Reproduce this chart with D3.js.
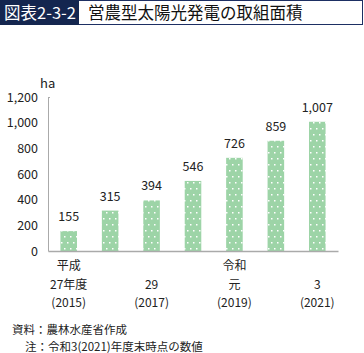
<!DOCTYPE html>
<html><head><meta charset="utf-8">
<script src="https://cdn.jsdelivr.net/npm/d3@7"></script>
<style>body{margin:0;background:#fff;}svg{display:block;font-family:"Noto Sans CJK JP","Noto Sans",sans-serif;}</style>
</head><body>
<script>
const years = ["2015","2016","2017","2018","2019","2020","2021"];
const values = [155, 315, 394, 546, 726, 859, 1007];
const yTicks = [0, 200, 400, 600, 800, 1000, 1200];
const xLabels = [
  {year:"2015", lines:["平成","27年度","(2015)"]},
  {year:"2017", lines:["","29","(2017)"]},
  {year:"2019", lines:["令和","元","(2019)"]},
  {year:"2021", lines:["","3","(2021)"]}
];
const titleBox = "図表2-3-2";
const titleText = "営農型太陽光発電の取組面積";
const notes = ["資料：農林水産省作成", "注：令和3(2021)年度末時点の数値"];

const W = 364, H = 353;
const svg = d3.select("body").append("svg").attr("width", W).attr("height", H);

// pattern
const defs = svg.append("defs");
const pat = defs.append("pattern").attr("id","dots").attr("patternUnits","userSpaceOnUse")
  .attr("width",6).attr("height",12);
pat.append("rect").attr("width",6).attr("height",12).attr("fill","#9dd4a7");
pat.append("rect").attr("x",1).attr("y",2).attr("width",1.5).attr("height",1.5).attr("fill","#fff");
pat.append("rect").attr("x",4).attr("y",8).attr("width",1.5).attr("height",1.5).attr("fill","#fff");

// title
svg.append("rect").attr("x",0.5).attr("y",0.5).attr("width",362).attr("height",24)
  .attr("fill","#fff").attr("stroke","#1d2f63").attr("stroke-width",1);
svg.append("rect").attr("x",0).attr("y",0).attr("width",79).attr("height",25).attr("fill","#14264f");
svg.append("text").attr("x",4).attr("y",19).attr("fill","#fff").attr("font-size",16.5).text(titleBox);
svg.append("text").attr("x",88).attr("y",19).attr("fill","#111").attr("font-size",16.5).text(titleText);

const x0 = 48, x1 = 338, yTop = 97, yBot = 251;
const x = d3.scaleBand().domain(years).range([x0, x1]).paddingInner(0.6).paddingOuter(0.3);
const y = d3.scaleLinear().domain([0, 1200]).range([yBot, yTop]);

// y axis
const yAxis = d3.axisLeft(y).tickValues(yTicks).tickSize(0).tickPadding(10).tickFormat(d3.format(","));
const gy = svg.append("g").attr("transform",`translate(${x0},0)`).call(yAxis);
gy.select(".domain").attr("stroke","#aaa");
gy.selectAll("text").attr("font-size",12.5).attr("fill","#222").attr("font-family","'Noto Sans CJK JP',sans-serif");
svg.append("line").attr("x1",x0).attr("x2",x0+2).attr("y1",yTop+0.5).attr("y2",yTop+0.5).attr("stroke","#aaa");

svg.append("text").attr("x",40).attr("y",88).attr("font-size",13).attr("fill","#222").text("ha");

// bars
svg.append("g").selectAll("rect").data(values).join("rect")
  .attr("x",(d,i)=>x(years[i])).attr("width",x.bandwidth())
  .attr("y",d=>y(d)).attr("height",d=>yBot - y(d))
  .attr("fill","url(#dots)");

svg.append("g").selectAll("text").data(values).join("text")
  .attr("x",(d,i)=>x(years[i])+x.bandwidth()/2).attr("y",d=>y(d)-10)
  .attr("text-anchor","middle").attr("font-size",12.5).attr("fill","#222")
  .text(d=>d3.format(",")(d));

// x axis
const xAxis = d3.axisBottom(x).tickSize(0).tickFormat("");
const gx = svg.append("g").attr("transform",`translate(0,${yBot})`).call(xAxis);
gx.select(".domain").attr("stroke","#aaa").attr("stroke-width",1.5);

const gl = svg.append("g");
xLabels.forEach(l=>{
  l.lines.forEach((t,j)=>{
    gl.append("text").attr("x",x(l.year)+x.bandwidth()/2).attr("y",270+j*18.5)
      .attr("text-anchor","middle").attr("font-size",12).attr("fill","#222").text(t);
  });
});

svg.append("text").attr("x",12).attr("y",334).attr("font-size",11.5).attr("fill","#222").text(notes[0]);
svg.append("text").attr("x",25).attr("y",351).attr("font-size",11.5).attr("fill","#222").text(notes[1]);
</script>
</body></html>
